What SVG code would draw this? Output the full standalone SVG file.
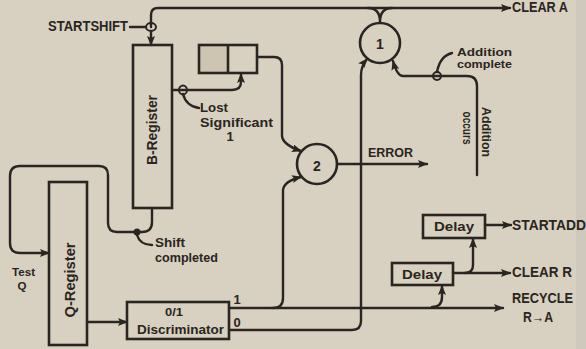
<svg xmlns="http://www.w3.org/2000/svg" width="586" height="349" viewBox="0 0 586 349">
<defs>
<marker id="ah" viewBox="0 0 10 8" refX="9" refY="4" markerWidth="10" markerHeight="8" markerUnits="userSpaceOnUse" orient="auto">
<path d="M0,0 L10,4 L0,8 L2,4 Z" fill="#2a2520"/>
</marker>
</defs>
<style>
.ln{fill:none;stroke:#2a2520;stroke-width:2.4;stroke-linecap:round;stroke-linejoin:round}
.ar{marker-end:url(#ah)}
.bx{fill:none;stroke:#2a2520;stroke-width:2.6}
.t{font-family:"Liberation Sans",Arial,sans-serif;font-weight:bold;font-size:14px;fill:#2a2520}
.s{font-size:13px}
.xs{font-size:11.5px}
.jn{fill:none;stroke:#2a2520;stroke-width:2}
</style>
<rect x="0" y="0" width="586" height="349" fill="#d8d0c0"/>
<rect x="576" y="0" width="10" height="349" fill="#cfc9bd"/>

<g id="connectors">
<path class="ln ar" d="M151,27 V15 Q151,8 158,8 H510"/>
<path class="ln ar" d="M151,31 V45"/>
<path class="ln" d="M130,27 H146"/>
<path class="ln" d="M368,8 Q380,8 380,22 M392,8 Q380,8 380,22"/>
<path class="ln ar" d="M172,90 H232 Q241,90 241,82 V74"/>
<path class="ln" d="M183,94 Q186,106 199,108"/>
<path class="ln ar" d="M257,57 H274 Q282,57 282,65 V136 Q283,145 301,151"/>
<path class="ln ar" d="M229,308 H503"/>
<path class="ln ar" d="M273,308 Q283,308 283,298 V190 Q284,181 301,177"/>
<path class="ln ar" d="M229,330 H352 Q361,330 361,321 V75 Q361,66 367,59"/>
<path class="ln ar" d="M337,164 H427"/>
<path class="ln ar" d="M477,175 V86 Q477,76 467,76 H403 Q397,76 393,61"/>
<path class="ln" d="M437,72 Q440,56 452,53"/>
<path class="ln ar" d="M152,208 V222 Q152,232 142,232 H117 Q108,232 108,223 V175 Q108,166 99,166 H20 Q10,166 10,176 V243 Q10,253 20,253 H49"/>
<path class="ln" d="M137,235 Q140,245 152,245"/>
<path class="ln ar" d="M87,322 H127"/>
<path class="ln ar" d="M432,307 Q442,307 442,297 V286"/>
<path class="ln ar" d="M453,273 H510"/>
<path class="ln ar" d="M465,273 Q473,273 473,265 V239"/>
<path class="ln ar" d="M485,225 H511"/>
<ellipse class="jn" cx="151" cy="27" rx="5" ry="4" fill="#d8d0c0"/>
<ellipse class="jn" cx="183" cy="90" rx="4" ry="4.5" fill="#d8d0c0"/>
<ellipse class="jn" cx="437" cy="76" rx="4" ry="4" fill="#d8d0c0"/>
<circle cx="137" cy="232" r="3.5" fill="#2a2520"/>
</g>

<g id="b-register">
<rect class="bx" x="133" y="45" width="39" height="163"/>
<text class="t" transform="translate(157,130) rotate(-90)" text-anchor="middle" textLength="70" lengthAdjust="spacingAndGlyphs">B-Register</text>
</g>
<g id="q-register">
<rect class="bx" x="49" y="182" width="38" height="163"/>
<text class="t" transform="translate(75,280) rotate(-90)" text-anchor="middle" textLength="75" lengthAdjust="spacingAndGlyphs">Q-Register</text>
</g>
<g id="small-register">
<rect x="199" y="45" width="29" height="28" fill="#cdc4b2"/>
<rect class="bx" x="199" y="45" width="58" height="28"/>
<line class="bx" x1="228" y1="45" x2="228" y2="73"/>
</g>
<g id="gate-1">
<circle class="bx" cx="380" cy="43" r="20"/>
<text class="t" x="380" y="49" text-anchor="middle" font-size="17">1</text>
</g>
<g id="gate-2">
<circle class="bx" cx="317" cy="164" r="20"/>
<text class="t" x="317" y="171" text-anchor="middle" font-size="19">2</text>
</g>
<g id="discriminator">
<rect class="bx" x="127" y="302" width="102" height="37"/>
<text class="t xs" x="174" y="316" text-anchor="middle" textLength="18" lengthAdjust="spacingAndGlyphs">0/1</text>
<text class="t s" x="137" y="334" textLength="87" lengthAdjust="spacingAndGlyphs">Discriminator</text>
</g>
<g id="delay-upper">
<rect class="bx" x="423" y="215" width="62" height="23"/>
<text class="t s" x="454" y="231" text-anchor="middle" textLength="40" lengthAdjust="spacingAndGlyphs">Delay</text>
</g>
<g id="delay-lower">
<rect class="bx" x="392" y="263" width="61" height="22"/>
<text class="t s" x="422" y="279" text-anchor="middle" textLength="40" lengthAdjust="spacingAndGlyphs">Delay</text>
</g>

<g id="labels">
<text class="t" x="48" y="31" textLength="80" lengthAdjust="spacingAndGlyphs">STARTSHIFT</text>
<text class="t" x="512" y="12" textLength="56" lengthAdjust="spacingAndGlyphs">CLEAR A</text>
<text class="t s" x="200" y="112" textLength="28" lengthAdjust="spacingAndGlyphs">Lost</text>
<text class="t s" x="200" y="127" textLength="73" lengthAdjust="spacingAndGlyphs">Significant</text>
<text class="t s" x="230" y="141" text-anchor="middle">1</text>
<text class="t xs" x="457" y="56" textLength="55" lengthAdjust="spacingAndGlyphs">Addition</text>
<text class="t xs" x="457" y="68" textLength="55" lengthAdjust="spacingAndGlyphs">complete</text>
<text class="t s" transform="translate(482,132) rotate(90)" text-anchor="middle" textLength="50" lengthAdjust="spacingAndGlyphs">Addition</text>
<text class="t s" transform="translate(463,128) rotate(90)" text-anchor="middle" textLength="33" lengthAdjust="spacingAndGlyphs">occurs</text>
<text class="t s" x="368" y="157" textLength="45" lengthAdjust="spacingAndGlyphs">ERROR</text>
<text class="t s" x="155" y="247" textLength="30" lengthAdjust="spacingAndGlyphs">Shift</text>
<text class="t s" x="155" y="262" textLength="63" lengthAdjust="spacingAndGlyphs">completed</text>
<text class="t xs" x="12" y="276" textLength="23" lengthAdjust="spacingAndGlyphs">Test</text>
<text class="t xs" x="22" y="290" text-anchor="middle">Q</text>
<text class="t s" x="237" y="304" text-anchor="middle">1</text>
<text class="t s" x="237" y="327" text-anchor="middle">0</text>
<text class="t" x="512" y="230" textLength="74" lengthAdjust="spacingAndGlyphs">STARTADD</text>
<text class="t" x="512" y="277" textLength="60" lengthAdjust="spacingAndGlyphs">CLEAR R</text>
<text class="t" x="512" y="303" textLength="61" lengthAdjust="spacingAndGlyphs">RECYCLE</text>
<text class="t" x="523" y="322" textLength="30" lengthAdjust="spacingAndGlyphs">R→A</text>
</g>
</svg>
